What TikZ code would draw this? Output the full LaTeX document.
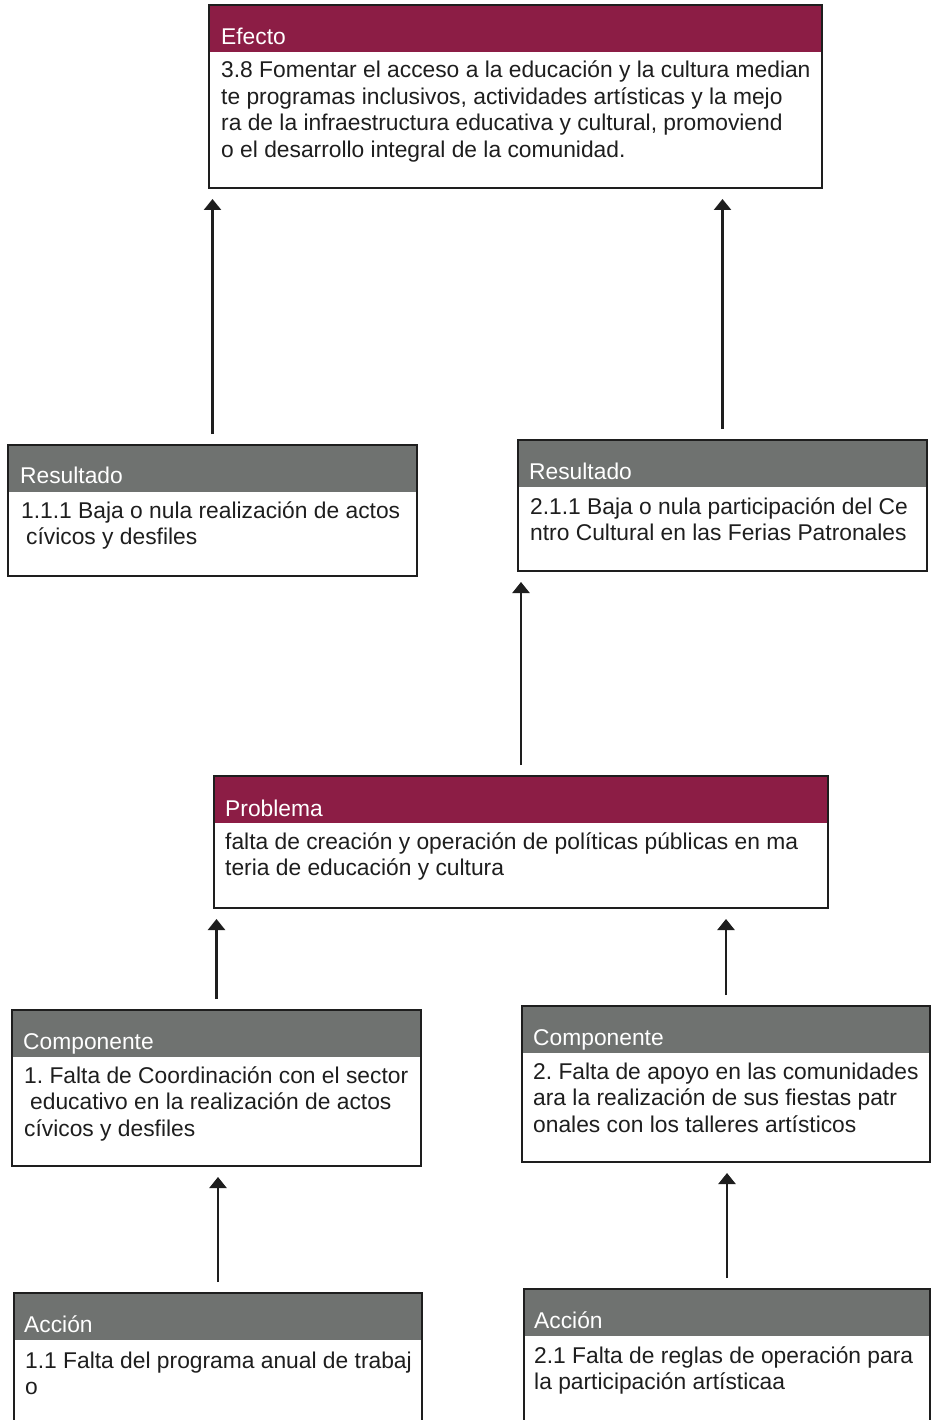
\documentclass[tikz,border=0pt]{standalone}
\usepackage{fontspec}
\setmainfont{Liberation Sans}
\usetikzlibrary{arrows.meta}
\frenchspacing
\definecolor{maroon}{HTML}{8C1D45}
\definecolor{hgray}{HTML}{6F7270}
\definecolor{ink}{HTML}{1E1E1E}
\newcommand{\lines}[1]{\begin{tabular}[t]{@{}l@{}}#1\end{tabular}}
\tikzset{
  boxbase/.style={draw=ink, line width=2.2pt, fill=white, inner sep=0pt, outer sep=0pt, anchor=north west},
  effbox/.style={boxbase, path picture={\fill[maroon] (path picture bounding box.north west) rectangle ([yshift=-47pt]path picture bounding box.north east);}},
  graybox/.style={boxbase, path picture={\fill[hgray] (path picture bounding box.north west) rectangle ([yshift=-47pt]path picture bounding box.north east);}},
  hdr/.style={anchor=base west, inner sep=0pt, text=white, font=\fontsize{22.8}{26.5}\selectfont},
  body/.style={anchor=base west, inner sep=0pt, text=ink, font=\fontsize{22.8}{26.5}\selectfont},
  up/.style={draw=ink, line width=2.4pt, -{Triangle[length=11pt,width=17pt]}, shorten <=11pt, shorten >=11pt}
}
\begin{document}
\begin{tikzpicture}[x=1pt,y=-1pt]
\useasboundingbox (0,0) rectangle (931,1420);
\clip (0,0) rectangle (931,1420);
\fill[white] (0,0) rectangle (931,1420);

% Efecto
\node[effbox, minimum width=613pt, minimum height=183pt] (efecto) at (209,5) {};
\node[hdr] (efectoh) at (221,45) {Efecto};
\node[body] (efectot) at (221,78) {\lines{3.8 Fomentar el acceso a la educación y la cultura median\\te programas inclusivos, actividades artísticas y la mejo\\ra de la infraestructura educativa y cultural, promoviend\\o el desarrollo integral de la comunidad.}};

% Resultado left
\node[graybox, minimum width=409pt, minimum height=131pt] (res1) at (8,445) {};
\node[hdr] (res1h) at (20,483) {Resultado};
\node[body] (res1t) at (21,518) {\lines{1.1.1 Baja o nula realización de actos\\\hspace{5pt}cívicos y desfiles}};

% Resultado right
\node[graybox, minimum width=409pt, minimum height=131pt] (res2) at (518,440) {};
\node[hdr] (res2h) at (529,479) {Resultado};
\node[body] (res2t) at (530,514) {\lines{2.1.1 Baja o nula participación del Ce\\ntro Cultural en las Ferias Patronales}};

% Problema
\node[effbox, minimum width=614pt, minimum height=132pt] (prob) at (214,776) {};
\node[hdr] (probh) at (225,816) {Problema};
\node[body] (probt) at (225,849) {\lines{falta de creación y operación de políticas públicas en ma\\teria de educación y cultura}};

% Componente left
\node[graybox, minimum width=409pt, minimum height=156pt] (comp1) at (12,1010) {};
\node[hdr] (comp1h) at (23,1049) {Componente};
\node[body] (comp1t) at (24,1083) {\lines{1. Falta de Coordinación con el sector\\\hspace{6pt}educativo en la realización de actos\\cívicos y desfiles}};

% Componente right
\node[graybox, minimum width=408pt, minimum height=156pt] (comp2) at (522,1006) {};
\node[hdr] (comp2h) at (533,1045) {Componente};
\node[body] (comp2t) at (533,1079) {\lines{2. Falta de apoyo en las comunidades\\ara la realización de sus fiestas patr\\onales con los talleres artísticos}};

% Accion left
\node[graybox, minimum width=408pt, minimum height=160pt] (acc1) at (14,1293) {};
\node[hdr] (acc1h) at (24,1332) {Acción};
\node[body] (acc1t) at (25,1368) {\lines{1.1 Falta del programa anual de trabaj\\o}};

% Accion right
\node[graybox, minimum width=406pt, minimum height=160pt] (acc2) at (524,1289) {};
\node[hdr] (acc2h) at (534,1328) {Acción};
\node[body] (acc2t) at (534,1363) {\lines{2.1 Falta de reglas de operación para\\la participación artísticaa}};

% Arrows
\draw[up] (res1.north) -- (res1.north |- efecto.south);
\draw[up] (res2.north) -- (res2.north |- efecto.south);
\draw[up] (prob.north) -- (prob.north |- res2.south);
\draw[up] (comp1.north) -- (comp1.north |- prob.south);
\draw[up] (comp2.north) -- (comp2.north |- prob.south);
\draw[up] (acc1.north) -- (acc1.north |- comp1.south);
\draw[up] (acc2.north) -- (acc2.north |- comp2.south);
\end{tikzpicture}
\end{document}
